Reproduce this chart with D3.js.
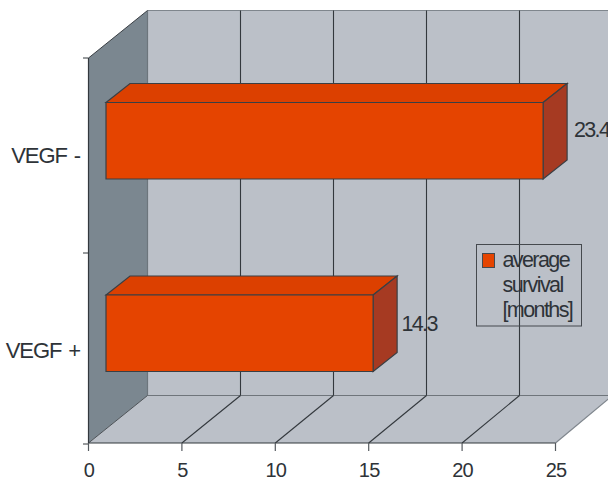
<!DOCTYPE html>
<html>
<head>
<meta charset="utf-8">
<script src="https://cdnjs.cloudflare.com/ajax/libs/d3/7.8.5/d3.min.js"></script>
<style>
html,body{margin:0;padding:0;background:#fff;overflow:hidden}
text{font-family:"Liberation Sans",Arial,sans-serif;fill:#2e3338}
</style>
</head>
<body>
<svg id="chart" width="608" height="482"></svg>
<script>
// Survival by VEGF status
const categories = ["VEGF -", "VEGF +"];
const survivalMonths = [23.4, 14.3];
const valueLabels = ["23.4", "14.3"];
const xTicks = [0, 5, 10, 15, 20, 25];
const legendLines = ["average", "survival", "[months]"];

const svg = d3.select("#chart");

// Front plane scales and the 3D depth of the plot box
const x = d3.scaleLinear().domain([0, 25]).range([88.5, 555.5]);
const xBack = d3.scaleLinear().domain([0, 25]).range([147.5, 612.5]);
const y = d3.scaleBand().domain(categories).range([58, 443]);
const depth = { dx: 59.5, dy: -47.5 };
const barFront = { dx: 17.5, dy: -13.5 };
const barBack = { dx: 41.5, dy: -32.5 };
const barHeight = 76.5;

// Hand placement of the labels around each bar
const categoryNudge = [8.5, 11.25];
const valueNudge = [{ dx: 7, dy: -17 }, { dx: 4.5, dy: -16 }];

const line = d3.line();
const poly = (g, pts, fill, stroke, sw) => g.append("path")
  .attr("d", line(pts) + "Z").attr("fill", fill)
  .attr("stroke", stroke || "none").attr("stroke-width", sw || 1);
const seg = (g, a, b, stroke, sw) => g.append("line")
  .attr("x1", a[0]).attr("y1", a[1]).attr("x2", b[0]).attr("y2", b[1])
  .attr("stroke", stroke).attr("stroke-width", sw || 1);

const [yTop, yBottom] = y.range();
const x0 = x(0), x25 = x(25);
const bx0 = xBack(0), bx25 = xBack(25);
const wallTop = yTop + depth.dy, wallBottom = yBottom + depth.dy;

// Walls and floor
const box = svg.append("g");
poly(box, [[bx0, wallTop], [bx25, wallTop], [bx25, wallBottom], [bx0, wallBottom]], "#bbc0c8");
poly(box, [[x0, yBottom], [x25, yBottom], [bx25, wallBottom], [bx0, wallBottom]], "#bbc0c8");
poly(box, [[x0, yTop], [bx0, wallTop], [bx0, wallBottom], [x0, yBottom]], "#7b8790");
seg(box, [bx0, wallTop], [bx25, wallTop], "#7f868d");
seg(box, [bx0, wallTop], [bx0, wallBottom], "#6c757c", 1.2);
seg(box, [bx0, wallBottom], [bx25, wallBottom], "#6f757b", 1.2);
seg(box, [x25, yBottom], [bx25, wallBottom], "#7f868d", 1.2);

// Gridlines on back wall and floor
xTicks.slice(1, 5).forEach(t => {
  seg(box, [xBack(t), wallTop], [xBack(t), wallBottom], "#33383d", 1.1);
  seg(box, [x(t), yBottom], [xBack(t), wallBottom], "#33383d", 1.1);
});
seg(box, [x0, yTop], [bx0, wallTop], "#3a3f44", 1);
seg(box, [x0, yBottom], [bx0, wallBottom], "#4d5257", 1);

// Front axes
seg(box, [x0, yTop], [x0, yBottom], "#33383d", 1.2);
seg(box, [x0, yBottom], [x25, yBottom], "#33383d", 1.2);
[yTop, y(categories[1]) + 2.5, yBottom + 1].forEach(v => seg(box, [x0 - 5.5, v], [x0, v], "#33383d", 1));

const xAxis = svg.append("g");
xTicks.forEach(t => {
  seg(xAxis, [x(t), yBottom], [x(t), yBottom + 8], "#565b60", 1.2);
  xAxis.append("text").attr("x", x(t) + 0.5).attr("y", 477)
    .attr("text-anchor", "middle").attr("font-size", 20)
    .attr("letter-spacing", -0.8).text(t);
});

// Category labels
categories.forEach((c, i) => {
  svg.append("text").attr("x", 80).attr("y", y(c) + y.bandwidth() / 2 + categoryNudge[i])
    .attr("text-anchor", "end").attr("font-size", 22)
    .attr("letter-spacing", -1.1).attr("word-spacing", 2).text(c);
});

// 3D bars
const bars = svg.append("g");
categories.forEach((c, i) => {
  const v = survivalMonths[i];
  const mid = y(c) + y.bandwidth() / 2;
  const top = mid + barFront.dy - barHeight / 2;
  const bot = top + barHeight;
  const l = x(0) + barFront.dx;
  const r = x(v) + barFront.dx;
  const ox = barBack.dx - barFront.dx, oy = barBack.dy - barFront.dy;
  poly(bars, [[l, top], [l + ox, top + oy], [r + ox, top + oy], [r, top]], "#dc4000", "#3a3f44", 1.2);
  poly(bars, [[r, top], [r + ox, top + oy], [r + ox, bot + oy], [r, bot]], "#a63a22", "#3a3f44", 1.2);
  poly(bars, [[l, top], [r, top], [r, bot], [l, bot]], "#e54400", "#3a3f44", 1.2);
  svg.append("text").attr("x", r + ox + valueNudge[i].dx).attr("y", mid + valueNudge[i].dy)
    .attr("font-size", 21.5).attr("letter-spacing", -1.7).text(valueLabels[i]);
});

// Legend
const legend = svg.append("g");
legend.append("rect").attr("x", 476.5).attr("y", 244.5).attr("width", 105).attr("height", 81.5)
  .attr("fill", "none").attr("stroke", "#45494e").attr("stroke-width", 1);
legend.append("rect").attr("x", 482.5).attr("y", 253.5).attr("width", 12).attr("height", 14)
  .attr("fill", "#e54400").attr("stroke", "#45494e").attr("stroke-width", 1);
legendLines.forEach((s, i) => {
  legend.append("text").attr("x", 502.5).attr("y", 267 + i * 25)
    .attr("font-size", 21.5).attr("letter-spacing", -1.6).text(s);
});
</script>
</body>
</html>
